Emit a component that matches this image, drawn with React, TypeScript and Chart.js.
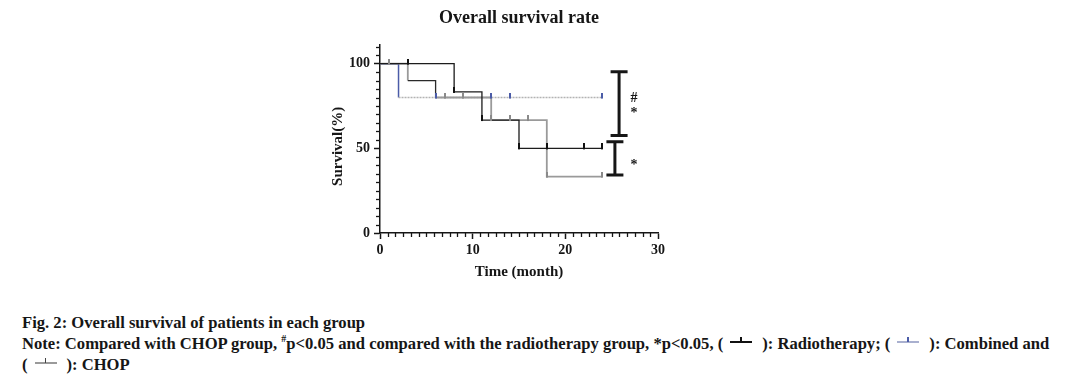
import React, { useEffect, useRef } from 'react';
import { Chart, registerables } from 'chart.js';

Chart.register(...registerables);

const SERIF = '"Liberation Serif", "Times New Roman", serif';
const INK = '#161616';

// Kaplan–Meier step data (time in months, survival in %)
const radioTimes = [0, 8, 11, 15, 24];
const radioSurv = [100, 83.3, 66.7, 50, 50];
const chopTimes = [0, 3, 6, 12, 18, 24];
const chopSurv = [100, 90, 80, 66.7, 33.3, 33.3];
const combinedTimes = [0, 2, 24];
const combinedSurv = [100, 80, 80];

// censored observations
const radioCensorT = [3, 8, 11, 15, 18, 22, 24];
const radioCensorS = [100, 83.3, 66.7, 50, 50, 50, 50];
const chopCensorT = [1, 7, 9, 12, 14, 16, 18, 24];
const chopCensorS = [100, 80, 80, 66.7, 66.7, 66.7, 33.3, 33.3];
const combCensorT = [6, 12, 14, 24];
const combCensorS = [80, 80, 80, 80];

// axis ticks
const xTickValues = [0, 10, 20, 30];
const yTickValues = [0, 50, 100];

// significance brackets (data units)
const bracketX = [25.8, 25.35];
const bracketTop = [95.2, 53.9];
const bracketBottom = [57.5, 34.2];
const sigLabelX = [27.4, 27.4, 27.4];
const sigLabelY = [79.7, 70.4, 40.1];
const sigLabelText = ['#', '*', '*'];

const toXY = (xs: number[], ys: number[]) => xs.map((x, i) => ({ x, y: ys[i] }));

function tickImage(color: string) {
  const c = document.createElement('canvas');
  c.width = 2;
  c.height = 10;
  const g = c.getContext('2d')!;
  g.fillStyle = color;
  g.fillRect(0, 0, 2, 6);
  return c;
}

const decorPlugin = {
  id: 'decor',
  afterDraw(chart: any) {
    const { ctx, chartArea, scales } = chart;
    const x = scales.x;
    const y = scales.y;
    ctx.save();
    // minor ticks
    ctx.strokeStyle = INK;
    ctx.lineWidth = 1.3;
    for (let v = 5; v <= 110; v += 5) {
      if (v % 50 === 0) continue;
      const py = Math.round(y.getPixelForValue(v)) + 0.5;
      ctx.beginPath();
      ctx.moveTo(chartArea.left - 4, py);
      ctx.lineTo(chartArea.left, py);
      ctx.stroke();
    }
    for (let i = 1; i < 36; i++) {
      if (i % 12 === 0) continue;
      const px = Math.round(x.getPixelForValue((i * 10) / 12)) + 0.5;
      ctx.beginPath();
      ctx.moveTo(px, chartArea.bottom);
      ctx.lineTo(px, chartArea.bottom + 4);
      ctx.stroke();
    }
    // brackets
    ctx.lineWidth = 3;
    ctx.strokeStyle = INK;
    for (let i = 0; i < bracketX.length; i++) {
      const bx = x.getPixelForValue(bracketX[i]);
      const t = y.getPixelForValue(bracketTop[i]);
      const b = y.getPixelForValue(bracketBottom[i]);
      const hw = 8.5;
      ctx.beginPath();
      ctx.moveTo(bx, t);
      ctx.lineTo(bx, b);
      ctx.moveTo(bx - hw, t);
      ctx.lineTo(bx + hw, t);
      ctx.moveTo(bx - hw, b);
      ctx.lineTo(bx + hw, b);
      ctx.stroke();
    }
    ctx.fillStyle = INK;
    ctx.textAlign = 'center';
    ctx.textBaseline = 'middle';
    ctx.font = `bold 14px ${SERIF}`;
    for (let i = 0; i < sigLabelText.length; i++) {
      ctx.fillText(sigLabelText[i], x.getPixelForValue(sigLabelX[i]), y.getPixelForValue(sigLabelY[i]));
    }
    // title
    ctx.font = `bold 18px ${SERIF}`;
    ctx.fillText('Overall survival rate', (chartArea.left + chartArea.right) / 2, 18);
    // y title
    ctx.translate(chartArea.left - 42, y.getPixelForValue(50) - 2);
    ctx.rotate(-Math.PI / 2);
    ctx.font = `bold 15px ${SERIF}`;
    ctx.fillText('Survival(%)', 0, 0);
    ctx.restore();
  },
};

function Sym({ line, tick }: { line: string; tick: string }) {
  return (
    <span style={{ display: 'inline-block', position: 'relative', width: 22, height: 14, margin: '0 10px 0 7px', verticalAlign: '-1px' }}>
      <span style={{ position: 'absolute', left: 0, right: 0, top: 5, height: 1.5, background: line }} />
      <span style={{ position: 'absolute', left: 10, top: 1, width: 1.5, height: 5, background: tick }} />
    </span>
  );
}

export default function App() {
  const ref = useRef<HTMLCanvasElement>(null);
  useEffect(() => {
    document.body.style.margin = '0';
    const blackTick = tickImage('#111');
    const greyTick = tickImage('#8a8a8a');
    const blueTick = tickImage('#4b5ca8');
    const tickFont = { family: SERIF, size: 14, weight: 'bold' as const };
    const axisCommon = {
      grid: { display: true, drawOnChartArea: false, drawTicks: true, tickLength: 6, tickWidth: 1.5, tickColor: INK },
      border: { display: true, color: INK, width: 1.5 },
    };
    const chart = new Chart(ref.current!, {
      type: 'line',
      data: {
        datasets: [
          { type: 'scatter', data: toXY(radioCensorT, radioCensorS), pointStyle: blackTick, pointRadius: 5, showLine: false } as any,
          { type: 'scatter', data: toXY(combCensorT, combCensorS), pointStyle: blueTick, pointRadius: 5, showLine: false } as any,
          { type: 'scatter', data: toXY(chopCensorT, chopCensorS), pointStyle: greyTick, pointRadius: 5, showLine: false } as any,
          { data: toXY(radioTimes, radioSurv), stepped: 'before', borderColor: '#1c1c1c', borderWidth: 1.3, pointRadius: 0, fill: false },
          {
            data: toXY(chopTimes, chopSurv),
            stepped: 'before',
            borderColor: '#9a9a9a',
            borderWidth: 1.8,
            pointRadius: 0,
            fill: false,
            segment: {
              borderColor: (c: any) => (c.p0DataIndex === 1 ? '#2a2a2a' : '#9a9a9a'),
              borderWidth: (c: any) => (c.p0DataIndex === 1 ? 1.3 : 1.8),
            },
          },
          {
            data: toXY(combinedTimes, combinedSurv),
            stepped: 'before',
            borderColor: '#b3b3b3',
            borderWidth: 1.5,
            pointRadius: 0,
            fill: false,
            segment: {
              borderColor: (c: any) => (c.p0DataIndex === 0 ? '#4b5ca8' : '#b3b3b3'),
              borderDash: (c: any) => (c.p0DataIndex === 0 ? [] : [2, 1]),
            },
          },
        ],
      },
      options: {
        animation: false,
        responsive: false,
        events: [],
        layout: { padding: { left: 300, right: 412, top: 45, bottom: 0 } },
        plugins: { legend: { display: false }, tooltip: { enabled: false }, title: { display: false } },
        scales: {
          x: {
            type: 'linear',
            min: 0,
            max: 30,
            ...axisCommon,
            afterBuildTicks: (s: any) => { s.ticks = xTickValues.map((v) => ({ value: v })); },
            afterFit: (s: any) => { s.height = 57; },
            ticks: { font: tickFont, color: INK, padding: 3, maxRotation: 0, callback: (v: any) => String(v) },
            title: { display: true, text: 'Time (month)', font: { family: SERIF, size: 15, weight: 'bold' }, color: INK, padding: { top: 0, bottom: 9 } },
          },
          y: {
            type: 'linear',
            min: 0,
            max: 111,
            ...axisCommon,
            afterBuildTicks: (s: any) => { s.ticks = yTickValues.map((v) => ({ value: v })); },
            afterFit: (s: any) => { s.width = 80; },
            ticks: { font: tickFont, color: INK, padding: 4, callback: (v: any) => String(v) },
          },
        },
      },
      plugins: [decorPlugin],
    } as any);
    return () => chart.destroy();
  }, []);

  return (
    <div style={{ position: 'relative', width: 1070, height: 376, background: '#fff', overflow: 'hidden' }}>
      <canvas ref={ref} width={1070} height={290} style={{ display: 'block', width: 1070, height: 290 }} />
      <div
        style={{
          position: 'absolute',
          left: 22,
          top: 312,
          font: `bold 16.6px ${SERIF}`,
          lineHeight: '21px',
          whiteSpace: 'nowrap',
          color: INK,
        }}
      >
        Fig. 2: Overall survival of patients in each group
        <br />
        Note: Compared with CHOP group, <span style={{ fontSize: 10, verticalAlign: 'super', lineHeight: 0 }}>#</span>p&lt;0.05 and compared
        with the radiotherapy group, *p&lt;0.05, (<Sym line="#111" tick="#111" />): Radiotherapy; (<Sym line="#a9b0cf" tick="#4b5ca8" />):
        Combined and
        <br />
        (<Sym line="#9a9a9a" tick="#444" />): CHOP
      </div>
    </div>
  );
}
